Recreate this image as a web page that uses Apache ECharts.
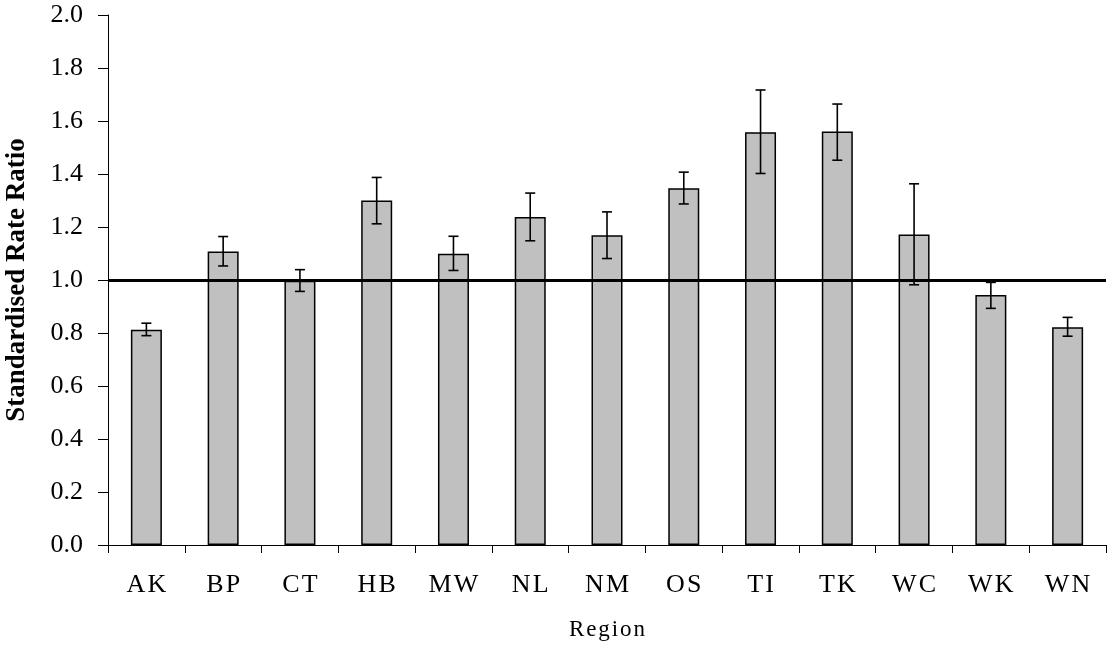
<!DOCTYPE html>
<html>
<head>
<meta charset="utf-8">
<title>Standardised Rate Ratio by Region</title>
<script src="https://cdn.jsdelivr.net/npm/echarts@6/dist/echarts.min.js"></script>
<style>
  html, body { margin: 0; padding: 0; background: #fff; }
  #chart { width: 1120px; height: 646px; }
</style>
</head>
<body>
<div id="chart"></div>
<script>
'use strict';

// values
var regions = ['AK', 'BP', 'CT', 'HB', 'MW', 'NL', 'NM', 'OS', 'TI', 'TK', 'WC', 'WK', 'WN'];
var ratios = [0.812, 1.108, 0.997, 1.300, 1.099, 1.238, 1.169, 1.346, 1.558, 1.560, 1.172, 0.943, 0.822];
var lower = [0.790, 1.053, 0.957, 1.212, 1.036, 1.148, 1.081, 1.287, 1.402, 1.452, 0.982, 0.893, 0.788];
var upper = [0.837, 1.164, 1.039, 1.387, 1.165, 1.328, 1.257, 1.407, 1.717, 1.664, 1.363, 0.991, 0.859];
var yTicks = [0.0, 0.2, 0.4, 0.6, 0.8, 1.0, 1.2, 1.4, 1.6, 1.8, 2.0];
var refValue = 1.0;

var serif = '"Liberation Serif", "DejaVu Serif", serif';
var hair = '\u200A';

// spread the letters a little, like the original
function spaced(s) {
    return s.split('').join(hair);
}

var errData = regions.map(function(r, i) {
    return [i, lower[i], upper[i]];
});

var chart = echarts.init(document.getElementById('chart'), null, { renderer: 'canvas' });

var option = {
    backgroundColor: '#ffffff',
    animation: false,
    grid: {
        left: 108,
        right: 14,
        top: 15,
        bottom: 101,
        containLabel: false,
        outerBoundsMode: 'none'
    },
    xAxis: {
        type: 'category',
        data: regions,
        name: spaced('Region'),
        nameLocation: 'middle',
        nameGap: 73,
        nameTextStyle: { fontFamily: serif, fontSize: 23, color: '#000' },
        axisLine: { lineStyle: { color: '#000', width: 1 } },
        axisTick: { show: true, length: 8, lineStyle: { color: '#000' } },
        axisLabel: {
            margin: 27,
            fontFamily: serif,
            fontSize: 26,
            color: '#000',
            formatter: function(v) { return spaced(v); }
        },
        splitLine: { show: false }
    },
    yAxis: {
        type: 'value',
        min: yTicks[0],
        max: yTicks[yTicks.length - 1],
        interval: 0.2,
        name: 'Standardised Rate Ratio',
        nameLocation: 'middle',
        nameRotate: 90,
        nameGap: 77,
        nameTextStyle: { fontFamily: serif, fontSize: 27, fontWeight: 'bold', color: '#000' },
        axisLine: { show: true, lineStyle: { color: '#000', width: 1 } },
        axisTick: { show: true, length: 10, lineStyle: { color: '#000' } },
        axisLabel: {
            margin: 25,
            fontFamily: serif,
            fontSize: 26,
            color: '#000',
            formatter: function(v) { return v.toFixed(1); }
        },
        splitLine: { show: false }
    },
    series: [{
        name: 'ratio',
        type: 'bar',
        data: ratios,
        barWidth: 31,
        itemStyle: { color: '#c0c0c0', borderColor: '#000', borderWidth: 1.5 },
        z: 2
    }, {
        name: 'ci',
        type: 'custom',
        data: errData,
        z: 4,
        renderItem: function(params, api) {
            var x = api.value(0);
            var lo = api.coord([x, api.value(1)]);
            var hi = api.coord([x, api.value(2)]);
            var half = 5;
            var st = { stroke: '#000', lineWidth: 1.6 };
            return {
                type: 'group',
                children: [
                    { type: 'line', shape: { x1: hi[0], y1: hi[1], x2: lo[0], y2: lo[1] }, style: st },
                    { type: 'line', shape: { x1: hi[0] - half, y1: hi[1], x2: hi[0] + half, y2: hi[1] }, style: st },
                    { type: 'line', shape: { x1: lo[0] - half, y1: lo[1], x2: lo[0] + half, y2: lo[1] }, style: st }
                ]
            };
        },
        markLine: {
            silent: true,
            symbol: 'none',
            label: { show: false },
            lineStyle: { color: '#000', width: 3, type: 'solid' },
            data: [{ yAxis: refValue }]
        }
    }]
};

chart.setOption(option);
</script>
</body>
</html>
